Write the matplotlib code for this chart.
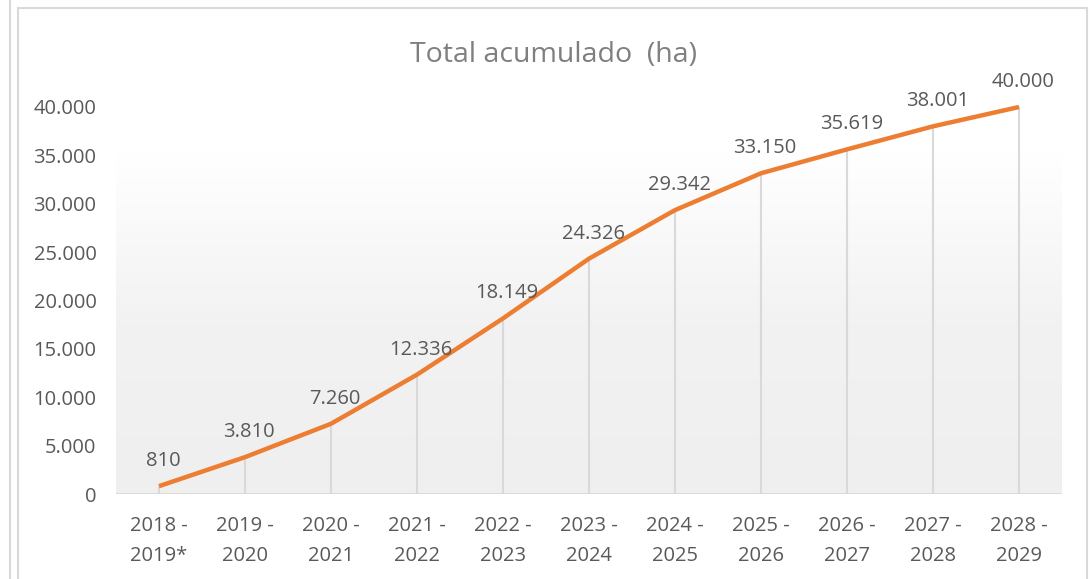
import numpy as np
import matplotlib.pyplot as plt
from matplotlib.colors import LinearSegmentedColormap
from matplotlib.patches import Rectangle
from matplotlib.lines import Line2D

# campagne e superficie cumulata (ha)
campanas = ["2018 -\n2019*", "2019 -\n2020", "2020 -\n2021", "2021 -\n2022",
            "2022 -\n2023", "2023 -\n2024", "2024 -\n2025", "2025 -\n2026",
            "2026 -\n2027", "2027 -\n2028", "2028 -\n2029"]
acumulado = [810, 3810, 7260, 12336, 18149, 24326, 29342, 33150, 35619, 38001, 40000]
yticks = [0, 5000, 10000, 15000, 20000, 25000, 30000, 35000, 40000]

ORANGE = "#ED7D31"
TEXT = "#595959"
GRID = "#d9d9d9"

plt.rcParams["font.family"] = ["Open Sans", "DejaVu Sans"]


def fmt_miles(v):
    # separatore delle migliaia con il punto
    return f"{int(v):,}".replace(",", ".")


fig = plt.figure(figsize=(10.9, 5.79), dpi=100)
W, H = 1090, 579

# cornice del grafico
fig.patches.append(Rectangle((18 / W, -0.05), (1087 - 18) / W, (579 - 8) / H + 0.05,
                             transform=fig.transFigure, fill=False,
                             edgecolor=GRID, linewidth=1.5))
fig.lines.append(Line2D([10 / W, 10 / W], [0, 1], transform=fig.transFigure,
                        color=GRID, linewidth=1.5))

ax = fig.add_axes([116 / W, (H - 494) / H, (1062 - 116) / W, (494 - 107) / H])
x = np.arange(len(campanas))
ax.set_xlim(-0.5, len(campanas) - 0.5)
ax.set_ylim(0, 40000)

# sfondo sfumato dell'area del grafico
cmap = LinearSegmentedColormap.from_list("sfondo", ["#efefef", "#f2f2f2", "#ffffff"])
grad = np.linspace(0, 1, 256).reshape(-1, 1)
ax.imshow(grad, cmap=cmap, origin="lower", aspect="auto",
          extent=(-0.5, len(campanas) - 0.5, 0, 35250), zorder=0)

for s in ax.spines.values():
    s.set_visible(False)
ax.axhline(0, color=GRID, linewidth=2, zorder=1)

# linee di proiezione verso l'asse
ax.vlines(x, 0, acumulado, color=GRID, linewidth=1.5, zorder=1)

ax.plot(x, acumulado, color=ORANGE, linewidth=3.2, solid_capstyle="butt",
        zorder=3, clip_on=False)

for xi, v in zip(x, acumulado):
    ax.annotate(fmt_miles(v), (xi, v), textcoords="offset points", xytext=(3, 18),
                ha="center", va="center", fontsize=14.5, color=TEXT, zorder=4,
                annotation_clip=False)

ax.set_yticks(yticks)
ax.set_yticklabels([fmt_miles(t) for t in yticks])
ax.set_xticks(x)
ax.set_xticklabels(campanas, linespacing=1.62)
ax.tick_params(axis="both", length=0, labelsize=14.5, labelcolor=TEXT)
ax.tick_params(axis="y", pad=14)
ax.tick_params(axis="x", pad=16)

fig.text(553 / W, (H - 55) / H, "Total acumulado  (ha)", ha="center", va="center",
         fontsize=20.5, color="#7f7f7f")

fig.savefig("out.png", dpi=100, facecolor="white")
